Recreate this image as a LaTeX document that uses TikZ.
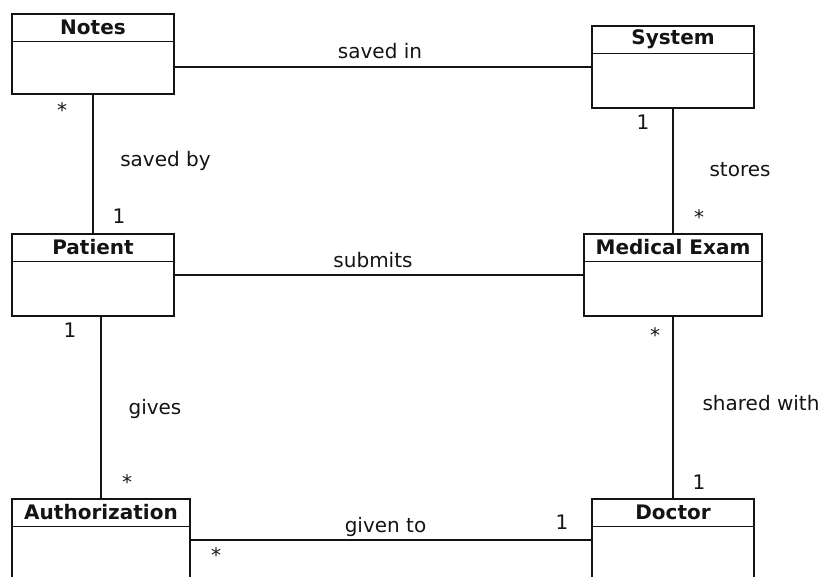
\documentclass[tikz,border=0pt]{standalone}
\usepackage{fontspec}
\setmainfont{DejaVu Sans}
\definecolor{ink}{HTML}{141414}
% one UML class: name, left x, top y, width, height, title
\newcommand\umlclass[6]{%
  \node[classbox, minimum width=#4, minimum height=#5, anchor=north west] (#1) at (#2,#3) {};
  \draw[boxline] ([yshift=-28.5]#1.north west) -- ([yshift=-28.5]#1.north east);
  \node[classtitle] (#1-title) at ([yshift=-14.5]#1.north) {#6};
}
\begin{document}
\begin{tikzpicture}[x=1pt,y=-1pt,
  txt/.style={font=\fontsize{20}{24}\selectfont, text=ink, inner sep=0pt},
  classbox/.style={draw=ink, line width=2pt, fill=white, inner sep=0pt},
  boxline/.style={draw=ink, line width=1.8pt},
  classtitle/.style={txt, font=\fontsize{20}{24}\selectfont\bfseries},
  conn/.style={draw=ink, line width=1.8pt},
  lbl/.style={txt, anchor=base},
  mult/.style={txt, anchor=base},
]
\useasboundingbox (0,0) rectangle (827,576);
\begin{scope}
\clip (0,0) rectangle (827,576);

% classes
\umlclass{notes}{11}{13}{162}{80}{Notes}
\umlclass{system}{591}{25}{162}{82}{System}
\umlclass{patient}{11}{233}{162}{82}{Patient}
\umlclass{exam}{583}{233}{178}{82}{Medical Exam}
\umlclass{auth}{11}{498}{178}{82}{Authorization}
\umlclass{doctor}{591}{498}{162}{82}{Doctor}

% associations
\draw[conn] (notes.east |- system.west) -- (system.west);
\draw[conn] (notes.south) -- (patient.north);
\draw[conn] (system.south) -- (exam.north);
\draw[conn] (patient.east) -- (exam.west);
\draw[conn] (patient.south -| auth.north) -- (auth.north);
\draw[conn] (exam.south) -- (doctor.north);
\draw[conn] (auth.east) -- (doctor.west);
\end{scope}

% association names
\node[lbl] (l-savedin) at (380,58) {saved in};
\node[lbl] (l-submits) at (373,267) {submits};
\node[lbl] (l-givento) at (385.5,532) {given to};
\node[lbl] (l-savedby) at (165.5,166) {saved by};
\node[lbl] (l-stores) at (740,176) {stores};
\node[lbl] (l-gives) at (155,414) {gives};
\node[lbl] (l-shared) at (761,410) {shared with};

% multiplicities
\node[mult] (m1) at (62,117) {*};
\node[mult] (m2) at (119,223) {1};
\node[mult] (m3) at (643,129) {1};
\node[mult] (m4) at (699,224) {*};
\node[mult] (m5) at (70,337) {1};
\node[mult] (m6) at (655,342) {*};
\node[mult] (m7) at (127,489) {*};
\node[mult] (m8) at (699,489) {1};
\node[mult] (m9) at (562,529) {1};
\node[mult] (m10) at (216,562) {*};
\end{tikzpicture}
\end{document}
